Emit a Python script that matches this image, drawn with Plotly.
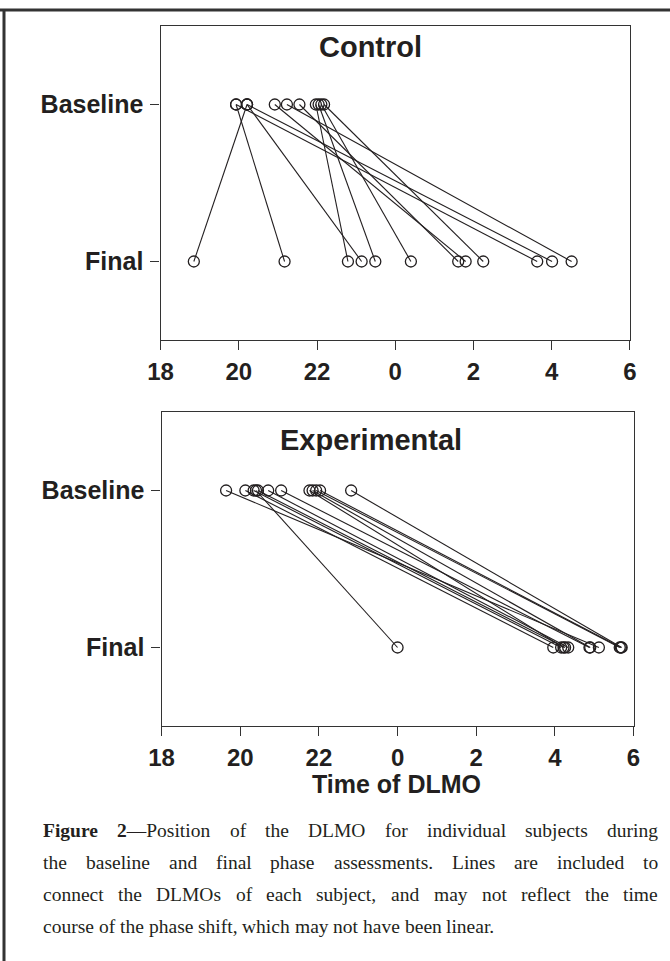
import plotly.graph_objects as go

W, H = 670, 961

# ---- data (hours; 24+ = after midnight) ----
tick_vals = [18, 20, 22, 24, 26, 28, 30]
tick_text = ["18", "20", "22", "0", "2", "4", "6"]
y_vals = [1, 0]
y_text = ["Baseline", "Final"]

control_baseline = [19.93, 20.21, 20.21, 19.93, 20.92, 21.23, 20.21, 21.55, 21.97, 22.04, 22.11, 22.18]
control_final = [21.17, 18.85, 23.14, 27.63, 25.80, 28.51, 28.01, 25.61, 22.79, 23.49, 24.40, 26.25]

exp_baseline = [19.64, 20.13, 20.34, 20.40, 20.45, 20.71, 21.04, 21.76, 21.84, 21.93, 22.03, 22.82]
exp_final = [29.12, 27.96, 28.16, 24.00, 28.26, 28.34, 28.88, 28.22, 28.90, 29.65, 29.68, 29.70]

caption_lines = [
    "<b>Figure</b> <b>2</b>\u2014Position of the DLMO for individual subjects during",
    "the baseline and final phase assessments. Lines are included to",
    "connect the DLMOs of each subject, and may not reflect the time",
    "course of the phase shift, which may not have been linear.",
]

INK = "#231f20"
SANS = "Liberation Sans, Arial, sans-serif"
SERIF = "Liberation Serif, Times New Roman, serif"

# Times advance widths (1/1000 em) used to justify the caption lines
TW = {' ': 250, 'a': 444, 'b': 500, 'c': 444, 'd': 500, 'e': 444, 'f': 333, 'g': 500, 'h': 500,
      'i': 278, 'j': 278, 'k': 500, 'l': 278, 'm': 778, 'n': 500, 'o': 500, 'p': 500, 'q': 500,
      'r': 333, 's': 389, 't': 278, 'u': 500, 'v': 500, 'w': 722, 'x': 500, 'y': 500, 'z': 444,
      'A': 722, 'B': 667, 'C': 667, 'D': 722, 'E': 611, 'F': 556, 'G': 722, 'H': 722, 'I': 333,
      'J': 389, 'K': 722, 'L': 611, 'M': 889, 'N': 722, 'O': 722, 'P': 556, 'Q': 722, 'R': 667,
      'S': 556, 'T': 611, 'U': 722, 'V': 722, 'W': 944, 'X': 722, 'Y': 722, 'Z': 611,
      '.': 250, ',': 250, '-': 333, '\u2014': 1000, '2': 500}
TWB = {'F': 611, 'i': 278, 'g': 500, 'u': 556, 'r': 444, 'e': 444, '2': 500}


def word_width(word, size):
    total = 0
    bold = False
    i = 0
    while i < len(word):
        if word.startswith("<b>", i):
            bold = True
            i += 3
            continue
        if word.startswith("</b>", i):
            bold = False
            i += 4
            continue
        ch = word[i]
        total += (TWB.get(ch, 500) if bold else TW.get(ch, 500))
        i += 1
    return total * size / 1000.0


def px_x(p):
    return p / W


def px_y(p):
    return 1 - p / H


fig = go.Figure()

for b, f in zip(control_baseline, control_final):
    fig.add_trace(go.Scatter(x=[b, f], y=[1, 0], mode="lines+markers",
                             line=dict(color=INK, width=1.1),
                             marker=dict(symbol="circle-open", size=11, color=INK, line=dict(width=1.3)),
                             xaxis="x", yaxis="y", showlegend=False, hoverinfo="skip"))
for b, f in zip(exp_baseline, exp_final):
    fig.add_trace(go.Scatter(x=[b, f], y=[1, 0], mode="lines+markers",
                             line=dict(color=INK, width=1.1),
                             marker=dict(symbol="circle-open", size=11, color=INK, line=dict(width=1.3)),
                             xaxis="x2", yaxis="y2", showlegend=False, hoverinfo="skip"))

xtickfont = dict(family=SANS, size=24, color=INK, weight="bold")
ytickfont = dict(family=SANS, size=25, color=INK, weight="bold")


def xax(domain, anchor):
    return dict(domain=domain, anchor=anchor, range=[18, 30], tickmode="array",
                tickvals=tick_vals, ticktext=tick_text, ticks="outside", ticklen=9,
                tickwidth=1.3, tickcolor="#333", showline=True, linecolor="#333",
                linewidth=1.3, mirror=True, showgrid=False, zeroline=False,
                tickfont=xtickfont, ticklabelstandoff=1, automargin=False)


def yax(domain, anchor):
    return dict(domain=domain, anchor=anchor, range=[-0.5, 1.5], tickmode="array",
                tickvals=y_vals, ticktext=y_text, ticks="outside", ticklen=9,
                tickwidth=1.3, tickcolor="#333", showline=True, linecolor="#333",
                linewidth=1.3, mirror=True, showgrid=False, zeroline=False,
                tickfont=ytickfont, ticklabelstandoff=2, automargin=False)


fig.update_layout(
    width=W, height=H, margin=dict(l=0, r=0, t=0, b=0, pad=0),
    paper_bgcolor="white", plot_bgcolor="white",
    xaxis=xax([px_x(160.6), px_x(629.9)], "y"),
    yaxis=yax([px_y(340), px_y(26)], "x"),
    xaxis2=xax([px_x(161.6), px_x(633.5)], "y2"),
    yaxis2=yax([px_y(726), px_y(412)], "x2"),
)

for text, cx, cy in [("<b>Control</b>", 370, 47), ("<b>Experimental</b>", 371, 440)]:
    fig.add_annotation(xref="paper", yref="paper", x=px_x(cx), y=px_y(cy), text=text,
                       showarrow=False, xanchor="center", yanchor="middle",
                       font=dict(family=SANS, size=29, color=INK))

fig.add_annotation(xref="paper", yref="paper", x=px_x(397), y=px_y(784), text="<b>Time of DLMO</b>",
                   showarrow=False, xanchor="center", yanchor="middle",
                   font=dict(family=SANS, size=25, color=INK))

# caption, justified word by word between x=43 and x=658 (last line left aligned)
CAP_SIZE = 19.5
CAP_L, CAP_R = 43, 658
cap_y = [830, 862, 894, 926]
for li, (line, yy) in enumerate(zip(caption_lines, cap_y)):
    words = line.split(" ")
    widths = [word_width(w, CAP_SIZE) for w in words]
    if li < len(caption_lines) - 1 and len(words) > 1:
        gap = (CAP_R - CAP_L - sum(widths)) / (len(words) - 1)
    else:
        gap = 250 * CAP_SIZE / 1000.0
    xpos = CAP_L
    for w, wd in zip(words, widths):
        fig.add_annotation(xref="paper", yref="paper", x=px_x(xpos), y=px_y(yy), text=w,
                           showarrow=False, xanchor="left", yanchor="middle",
                           borderpad=0, borderwidth=0,
                           font=dict(family=SERIF, size=CAP_SIZE, color=INK))
        xpos += wd + gap

# page frame
fig.add_shape(type="line", xref="paper", yref="paper", x0=0, x1=1, y0=px_y(10), y1=px_y(10),
              line=dict(color="#333", width=3))
fig.add_shape(type="line", xref="paper", yref="paper", x0=px_x(4), x1=px_x(4), y0=px_y(10), y1=0,
              line=dict(color="#333", width=3))

fig.write_html("out.html", config={"displayModeBar": False},
               post_script="document.body.style.margin='0';")
